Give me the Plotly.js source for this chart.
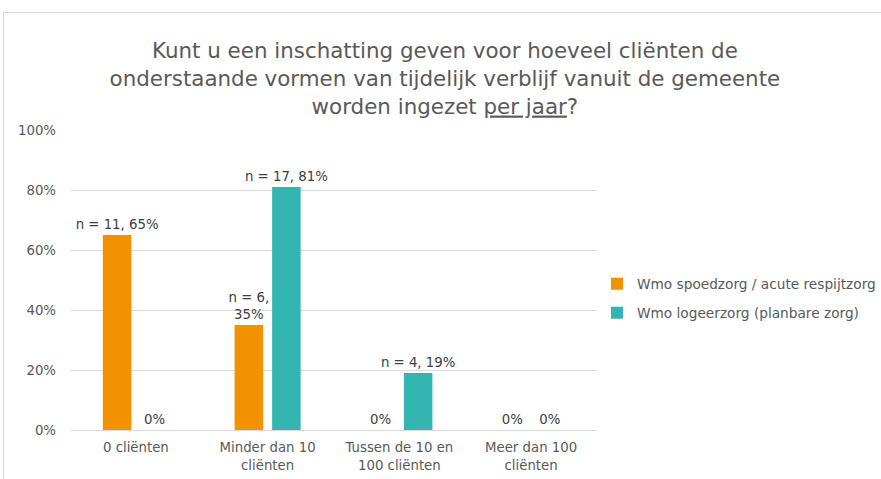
<!DOCTYPE html>
<html>
<head>
<meta charset="utf-8">
<script src="https://cdn.plot.ly/plotly-3.0.1.min.js"></script>
<style>
html,body{margin:0;padding:0;background:#fff;}
#wrap{position:relative;width:881px;height:479px;overflow:hidden;}
#chart{width:881px;height:479px;}
#frame{position:absolute;left:3px;top:12px;width:900px;height:500px;border:1px solid #d9d9d9;pointer-events:none;box-sizing:border-box;}
</style>
</head>
<body>
<div id="wrap"><div id="chart"></div><div id="frame"></div></div>
<script>
const categories = ["0 cliënten", "Minder dan 10<br>cliënten", "Tussen de 10 en<br>100 cliënten", "Meer dan 100<br>cliënten"];
const seriesNames = ["Wmo spoedzorg / acute respijtzorg", "Wmo logeerzorg (planbare zorg)"];
const spoedValues = [0.65, 0.35, 0, 0];
const spoedN = [11, 6, 0, 0];
const logeerValues = [0, 0.81, 0.19, 0];
const logeerN = [0, 17, 4, 0];
const yTickVals = [0, 0.2, 0.4, 0.6, 0.8, 1.0];
const yTickText = ["0%", "20%", "40%", "60%", "80%", "100%"];

function labels(vals, ns, wrapIdx) {
  return vals.map((v, i) => {
    const p = Math.round(v * 100) + "%";
    if (ns[i] === 0) return p;
    return wrapIdx.includes(i) ? "n = " + ns[i] + ",<br>" + p : "n = " + ns[i] + ", " + p;
  });
}

const FF = "'DejaVu Sans', sans-serif";
const labelFont = {family: FF, size: 13.3, color: "#404040"};

const traces = [
  {type: "bar", name: seriesNames[0], x: categories, y: spoedValues, legendgroup: "a",
   marker: {color: "#F39200"}, text: labels(spoedValues, spoedN, [1]),
   textposition: "outside", textangle: 0, constraintext: "none", textfont: labelFont, cliponaxis: false, hoverinfo: "none"},
  {type: "bar", name: seriesNames[1], x: categories, y: logeerValues, legendgroup: "b",
   marker: {color: "#33B5B2"}, text: labels(logeerValues, logeerN, []),
   textposition: "outside", textangle: 0, constraintext: "none", textfont: labelFont, cliponaxis: false, hoverinfo: "none"}
];

const layout = {
  width: 881, height: 479,
  margin: {l: 70, r: 281, t: 130, b: 49},
  paper_bgcolor: "rgba(0,0,0,0)", plot_bgcolor: "rgba(0,0,0,0)",
  font: {family: FF, color: "#595959", size: 13.3},
  title: {
    text: "Kunt u een inschatting geven voor hoeveel cliënten de<br>onderstaande vormen van tijdelijk verblijf vanuit de gemeente<br>worden ingezet <u>per jaar</u>?",
    font: {family: FF, size: 21.4, color: "#595959"},
    x: 0.505, xref: "container", xanchor: "center",
    y: 0.879, yref: "container", yanchor: "middle"
  },
  barmode: "group", bargap: 0.43, bargroupgap: 0.24,
  showlegend: true,
  legend: {x: 0.6776, xref: "container", xanchor: "left", y: 0.377, yref: "container", yanchor: "middle", traceorder: "grouped",
    font: {family: FF, size: 13.7, color: "#595959"}, itemwidth: 30, tracegroupgap: 8},
  xaxis: {type: "category", showgrid: false, zeroline: false, showline: false,
    ticks: "", ticklabelstandoff: 8, tickfont: {family: FF, size: 13.3, color: "#595959"}, fixedrange: true},
  yaxis: {range: [0, 1], tickvals: yTickVals, ticktext: yTickText,
    showgrid: true, gridcolor: "#d9d9d9", gridwidth: 1, zeroline: true, zerolinecolor: "#d9d9d9",
    showline: false, ticks: "", ticklabelstandoff: 13, tickfont: {family: FF, size: 13.3, color: "#595959"}, fixedrange: true}
};

Plotly.newPlot("chart", traces, layout, {displayModeBar: false, staticPlot: true});
</script>
</body>
</html>
